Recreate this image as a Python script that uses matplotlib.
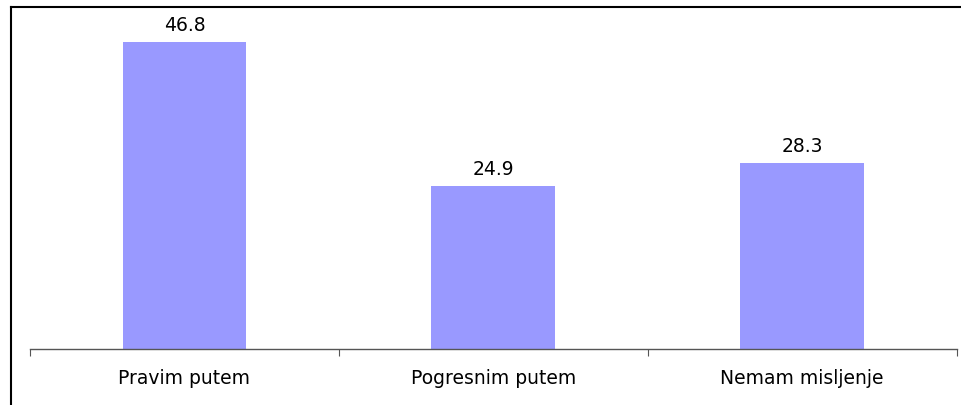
import matplotlib
matplotlib.use("Agg")
import matplotlib.pyplot as plt
from matplotlib.lines import Line2D

categories = ["Pravim putem", "Pogresnim putem", "Nemam misljenje"]
values = [46.8, 24.9, 28.3]

plt.rcParams['font.family'] = ['DejaVu Sans']

W, H = 961, 406
fig = plt.figure(figsize=(W / 100, H / 100), dpi=100)
ax = fig.add_axes([30 / W, 1 - 350 / H, (956.5 - 30) / W, (350 - 22) / H])

x = range(len(categories))
ax.bar(x, values, width=0.4, color="#9999FF", zorder=2)
for xi, v in zip(x, values):
    ax.text(xi, v + 1.2, f"{v:.1f}", ha="center", va="bottom", fontsize=13.5)

ax.set_xlim(-0.5, len(categories) - 0.5)
ax.set_ylim(0, 50)

for s in ["top", "right", "left"]:
    ax.spines[s].set_visible(False)
ax.spines["bottom"].set_color("#555555")
ax.spines["bottom"].set_linewidth(1.0)
ax.set_yticks([])

# ticks at category boundaries, labels at centres
ax.set_xticks([i - 0.5 for i in range(len(categories) + 1)])
ax.set_xticklabels([])
ax.set_xticks(list(x), minor=True)
ax.set_xticklabels(categories, minor=True, fontsize=13.5)
ax.tick_params(axis="x", which="major", direction="out", length=5, color="#555555")
ax.tick_params(axis="x", which="minor", length=0, pad=14)

# chart border (left and top edges visible)
fig.add_artist(Line2D([10.5 / W, 10.5 / W], [0, 1 - 7.5 / H], color="black", lw=1.5))
fig.add_artist(Line2D([10.5 / W, 1], [1 - 7.5 / H, 1 - 7.5 / H], color="black", lw=1.5))

fig.savefig("out.png", dpi=100)
